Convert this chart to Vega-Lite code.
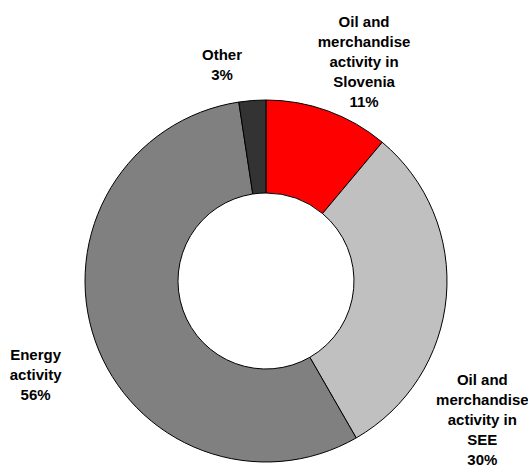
{
  "$schema": "https://vega.github.io/schema/vega-lite/v6.json",
  "width": 524,
  "height": 368,
  "autosize": {"type": "none"},
  "padding": {"left": 4, "right": 0, "top": 97, "bottom": 0},
  "background": "white",
  "config": {"view": {"stroke": null}},
  "data": {
    "values": [
      {"idx": 1, "segment": "Oil and merchandise activity in Slovenia", "share": 11.1, "label": "Oil and\nmerchandise\nactivity in\nSlovenia\n11%"},
      {"idx": 2, "segment": "Oil and merchandise activity in SEE", "share": 30.6, "label": "Oil and\nmerchandise\nactivity in\nSEE\n30%"},
      {"idx": 3, "segment": "Energy activity", "share": 55.9, "label": "Energy\nactivity\n56%"},
      {"idx": 4, "segment": "Other", "share": 2.4, "label": "Other\n3%"}
    ]
  },
  "transform": [
    {"stack": "share", "groupby": [], "sort": [{"field": "idx", "order": "ascending"}], "as": ["s0", "s1"]}
  ],
  "encoding": {
    "theta": {"field": "s0", "type": "quantitative", "stack": null, "scale": {"domain": [0, 100]}}
  },
  "layer": [
    {
      "mark": {"type": "arc", "outerRadius": 181, "innerRadius": 88, "stroke": "black", "strokeWidth": 1},
      "encoding": {
        "theta2": {"field": "s1"},
        "color": {
          "field": "segment",
          "type": "nominal",
          "legend": null,
          "scale": {
            "domain": ["Oil and merchandise activity in Slovenia", "Oil and merchandise activity in SEE", "Energy activity", "Other"],
            "range": ["#FF0000", "#C0C0C0", "#808080", "#333333"]
          }
        }
      }
    },
    {
      "transform": [{"filter": "datum.idx == 1"}],
      "mark": {"type": "text", "radius": 277, "thetaOffset": 0.3618, "lineBreak": "\n", "lineHeight": 20, "font": "Liberation Sans", "fontSize": 15, "fontWeight": "bold", "align": "center", "baseline": "middle", "color": "black"},
      "encoding": {"text": {"field": "label"}}
    },
    {
      "transform": [{"filter": "datum.idx == 2"}],
      "mark": {"type": "text", "radius": 238, "thetaOffset": 1.3032, "lineBreak": "\n", "lineHeight": 20, "font": "Liberation Sans", "fontSize": 15, "fontWeight": "bold", "align": "center", "baseline": "middle", "color": "black"},
      "encoding": {"text": {"field": "label"}}
    },
    {
      "transform": [{"filter": "datum.idx == 3"}],
      "mark": {"type": "text", "radius": 242, "thetaOffset": 1.7811, "lineBreak": "\n", "lineHeight": 20, "font": "Liberation Sans", "fontSize": 15, "fontWeight": "bold", "align": "center", "baseline": "middle", "color": "black"},
      "encoding": {"text": {"field": "label"}}
    },
    {
      "transform": [{"filter": "datum.idx == 4"}],
      "mark": {"type": "text", "radius": 230, "thetaOffset": -0.0415, "lineBreak": "\n", "lineHeight": 20, "font": "Liberation Sans", "fontSize": 15, "fontWeight": "bold", "align": "center", "baseline": "middle", "color": "black"},
      "encoding": {"text": {"field": "label"}}
    }
  ]
}
